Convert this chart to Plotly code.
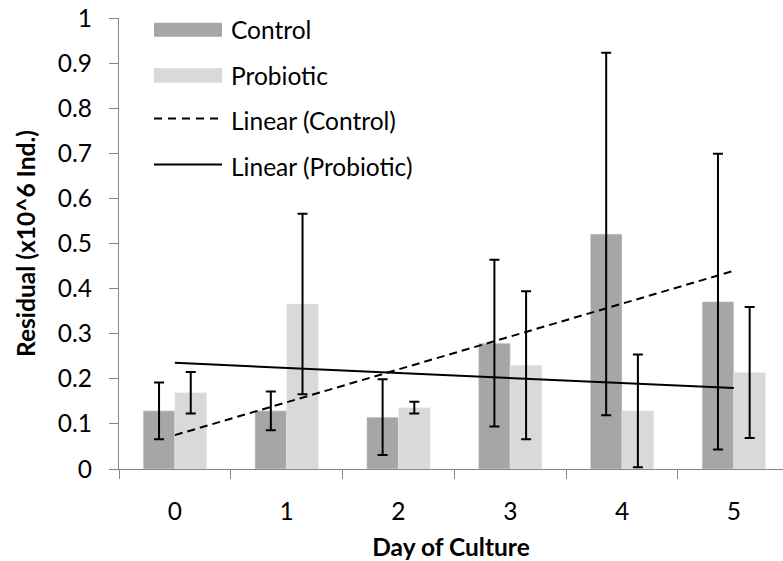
import numpy as np
import plotly.graph_objects as go

# Day of culture categories
days = ["0", "1", "2", "3", "4", "5"]

# Mean residual (x10^6 individuals) per day
control = [0.129, 0.129, 0.115, 0.279, 0.521, 0.371]
probiotic = [0.169, 0.366, 0.136, 0.230, 0.129, 0.214]

# Error bar half-widths
control_err = [0.063, 0.043, 0.084, 0.185, 0.402, 0.328]
probiotic_err = [0.046, 0.200, 0.013, 0.164, 0.125, 0.145]

# Linear trend lines (least squares over day index 1..6)
xi = np.arange(1, len(days) + 1)
c_fit = np.polyval(np.polyfit(xi, control, 1), xi)
p_fit = np.polyval(np.polyfit(xi, probiotic, 1), xi)

FONT = "Lato"
FS = 24.5
AXIS_GREY = "#868686"
C_DARK = "#A6A6A6"
C_LIGHT = "#D9D9D9"

W, H = 783, 561
L, R, T, B = 119, 0, 18, 92
PW, PH = W - L - R, H - T - B


def px(xp):
    return (xp - L) / PW


def py(yp):
    return (H - B - yp) / PH


fig = go.Figure()

err_style = dict(type="data", color="black", thickness=2, width=5, visible=True)

fig.add_trace(go.Bar(
    x=days, y=control, name="Control", marker_color=C_DARK,
    error_y=dict(array=control_err, **err_style), showlegend=False,
))
fig.add_trace(go.Bar(
    x=days, y=probiotic, name="Probiotic", marker_color=C_LIGHT,
    error_y=dict(array=probiotic_err, **err_style), showlegend=False,
))
fig.add_trace(go.Scatter(
    x=days, y=c_fit, mode="lines", name="Linear (Control)",
    line=dict(color="black", width=2, dash="8px,5px"), showlegend=False,
))
fig.add_trace(go.Scatter(
    x=days, y=p_fit, mode="lines", name="Linear (Probiotic)",
    line=dict(color="black", width=2), showlegend=False,
))

# Legend drawn as swatches + labels inside the plot area
x0, x1, xt = 154, 222, 229
shapes = [
    dict(type="rect", xref="paper", yref="paper", x0=px(x0), x1=px(x1),
         y0=py(36.7), y1=py(22.7), fillcolor=C_DARK, line_width=0, layer="above"),
    dict(type="rect", xref="paper", yref="paper", x0=px(x0), x1=px(x1),
         y0=py(82.7), y1=py(68.3), fillcolor=C_LIGHT, line_width=0, layer="above"),
    dict(type="line", xref="paper", yref="paper", x0=px(x0), x1=px(x1),
         y0=py(118.5), y1=py(118.5), line=dict(color="black", width=2, dash="8px,6px")),
    dict(type="line", xref="paper", yref="paper", x0=px(x0), x1=px(x1),
         y0=py(164.5), y1=py(164.5), line=dict(color="black", width=2)),
]
labels = [("Control", 29.5), ("Probiotic", 75.5),
          ("Linear (Control)", 120), ("Linear (Probiotic)", 166)]
annotations = [
    dict(text=t, xref="paper", yref="paper", x=px(xt), y=py(yc),
         xanchor="left", yanchor="middle", showarrow=False,
         font=dict(family=FONT, size=FS, color="black"))
    for t, yc in labels
]

fig.update_layout(
    width=W, height=H,
    margin=dict(l=L, r=R, t=T, b=B, autoexpand=False),
    paper_bgcolor="white", plot_bgcolor="white",
    barmode="group", bargap=0.433, bargroupgap=0,
    font=dict(family=FONT, size=FS, color="black"),
    shapes=shapes, annotations=annotations,
    xaxis=dict(
        type="category", range=[-0.5, 5.44],
        showline=True, linecolor=AXIS_GREY, linewidth=1.3,
        ticks="outside", tickson="boundaries", ticklen=9,
        tickcolor=AXIS_GREY, tickwidth=1.3,
        showgrid=False, zeroline=False, ticklabelstandoff=20,
        title=dict(text="<b>Day of Culture</b>", standoff=15,
                   font=dict(family=FONT, size=FS, color="black")),
    ),
    yaxis=dict(
        range=[0, 1], dtick=0.1, tick0=0,
        showline=True, linecolor=AXIS_GREY, linewidth=1.3,
        ticks="outside", ticklen=9, tickcolor=AXIS_GREY, tickwidth=1.3,
        showgrid=False, zeroline=False, ticklabelstandoff=12,
        title=dict(text="<b>Residual (x10^6 Ind.)</b>", standoff=15,
                   font=dict(family=FONT, size=FS, color="black")),
    ),
)

fig.write_html("out.html")
